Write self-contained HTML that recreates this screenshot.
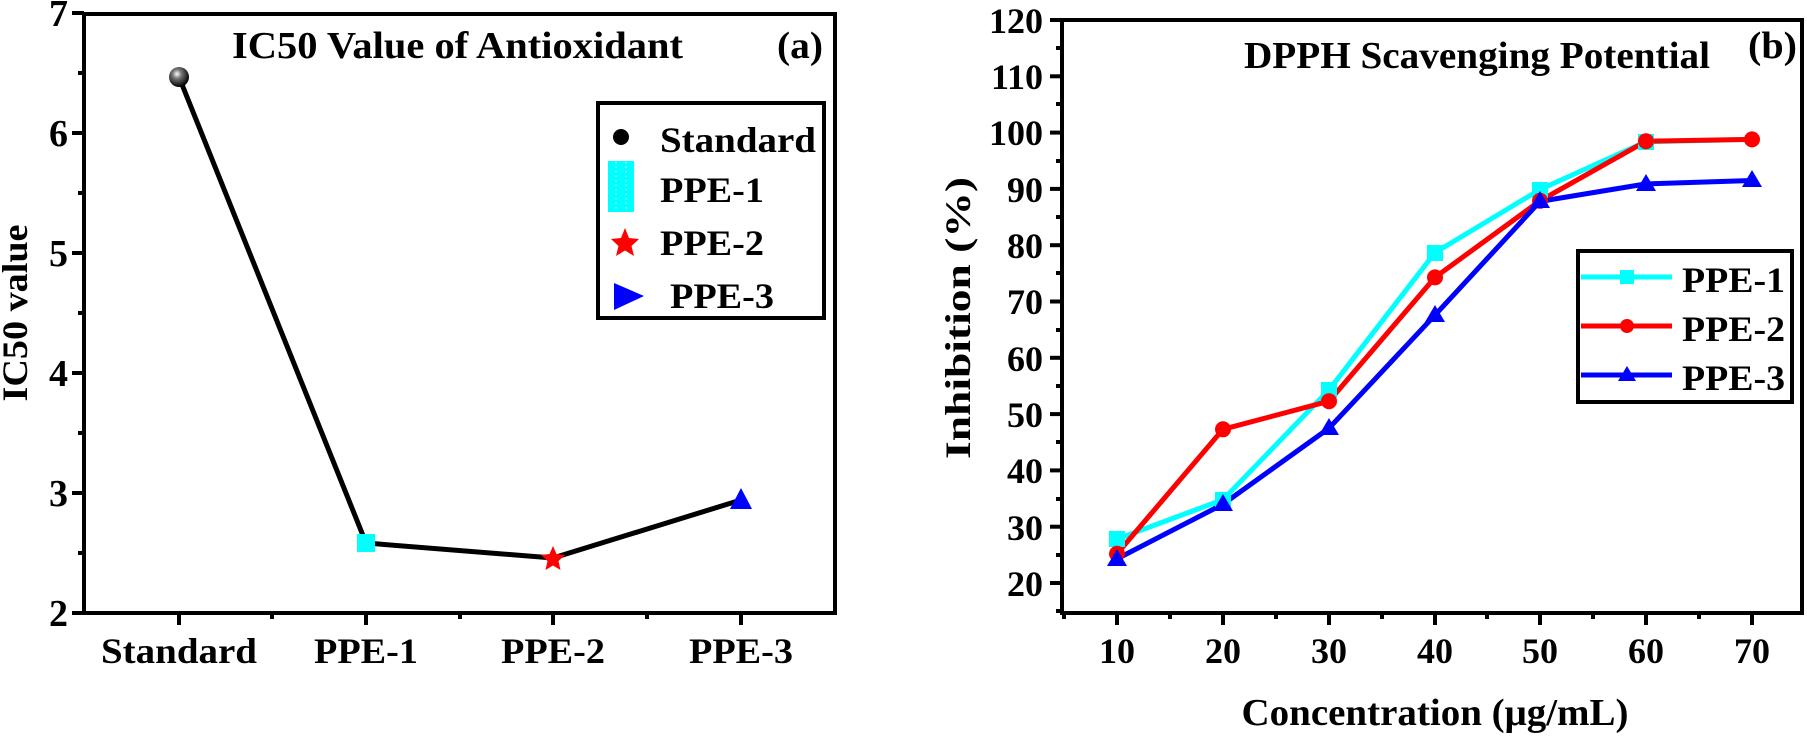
<!DOCTYPE html>
<html><head><meta charset="utf-8"><style>
html,body{margin:0;padding:0;background:#fff;}
svg{display:block;font-family:"Liberation Serif","Times New Roman",serif;font-weight:bold;}
</style></head><body>
<svg width="1807" height="736" viewBox="0 0 1807 736" xmlns="http://www.w3.org/2000/svg">
<defs>
<radialGradient id="sph" cx="40%" cy="35%" r="65%">
<stop offset="0" stop-color="#fff"/><stop offset="0.35" stop-color="#777"/><stop offset="1" stop-color="#000"/>
</radialGradient>
</defs>
<!-- Panel a -->
<g stroke="#000" stroke-width="4" fill="none">
<rect x="84" y="14" width="751" height="599"/>
</g>
<g stroke="#000" stroke-width="4">
<line x1="84" y1="13" x2="72" y2="13"/>
<line x1="84" y1="133" x2="72" y2="133"/>
<line x1="84" y1="253" x2="72" y2="253"/>
<line x1="84" y1="373" x2="72" y2="373"/>
<line x1="84" y1="493" x2="72" y2="493"/>
<line x1="84" y1="613" x2="72" y2="613"/>
<line x1="84" y1="73" x2="78" y2="73"/>
<line x1="84" y1="193" x2="78" y2="193"/>
<line x1="84" y1="313" x2="78" y2="313"/>
<line x1="84" y1="433" x2="78" y2="433"/>
<line x1="84" y1="553" x2="78" y2="553"/>
<line x1="179" y1="613" x2="179" y2="625"/>
<line x1="366" y1="613" x2="366" y2="625"/>
<line x1="553" y1="613" x2="553" y2="625"/>
<line x1="741" y1="613" x2="741" y2="625"/>
<line x1="272" y1="613" x2="272" y2="619"/>
<line x1="460" y1="613" x2="460" y2="619"/>
<line x1="647" y1="613" x2="647" y2="619"/>
</g>
<g font-size="38" text-anchor="end">
<text x="68" y="26">7</text><text x="68" y="146">6</text><text x="68" y="266">5</text>
<text x="68" y="386">4</text><text x="68" y="506">3</text><text x="68" y="626">2</text>
</g>
<g font-size="36" text-anchor="middle">
<text x="179" y="663" textLength="156" lengthAdjust="spacingAndGlyphs">Standard</text>
<text x="366" y="663" textLength="104" lengthAdjust="spacingAndGlyphs">PPE-1</text>
<text x="553" y="663" textLength="104" lengthAdjust="spacingAndGlyphs">PPE-2</text>
<text x="741" y="663" textLength="104" lengthAdjust="spacingAndGlyphs">PPE-3</text>
</g>
<text transform="translate(27,313) rotate(-90)" font-size="36" text-anchor="middle" textLength="177" lengthAdjust="spacingAndGlyphs">IC50 value</text>
<text x="232" y="58" font-size="38" textLength="451" lengthAdjust="spacingAndGlyphs">IC50 Value of Antioxidant</text>
<text x="777" y="58" font-size="38" textLength="46" lengthAdjust="spacingAndGlyphs">(a)</text>
<polyline points="179,77 366,543 553,558 741,500" fill="none" stroke="#000" stroke-width="5" stroke-linejoin="round"/>
<circle cx="179" cy="77" r="10" fill="url(#sph)"/>
<rect x="357" y="534" width="18" height="18" fill="#00ffff"/>
<polygon points="553,546 556.5,554 565,555 558.5,561 560.5,570 553,565.5 545.5,570 547.5,561 541,555 549.5,554" fill="#f00"/>
<polygon points="741,488 752,509 730,509" fill="#00f"/>
<!-- legend a -->
<rect x="598" y="103" width="226" height="215" fill="#fff" stroke="#000" stroke-width="4"/>
<circle cx="621" cy="137" r="8" fill="#000"/>
<rect x="608" y="161" width="26" height="51" fill="#00ffff"/>
<g stroke="#fff" stroke-width="1" stroke-dasharray="1.5,3"><line x1="616" y1="162" x2="616" y2="211"/><line x1="626" y1="162" x2="626" y2="211"/></g>
<polygon points="625,228 629,238 639,239 631.5,246 634,256 625,250.5 616,256 618.5,246 611,239 621,238" fill="#f00"/>
<polygon points="614,283 644,296 614,310" fill="#00f"/>
<g font-size="36">
<text x="660" y="152" textLength="156" lengthAdjust="spacingAndGlyphs">Standard</text>
<text x="660" y="202" textLength="104" lengthAdjust="spacingAndGlyphs">PPE-1</text>
<text x="660" y="255" textLength="104" lengthAdjust="spacingAndGlyphs">PPE-2</text>
<text x="670" y="308" textLength="104" lengthAdjust="spacingAndGlyphs">PPE-3</text>
</g>

<!-- Panel b -->
<rect x="1062" y="20" width="740" height="593" fill="none" stroke="#000" stroke-width="4"/>
<g stroke="#000" stroke-width="4">
<line x1="1062" y1="20" x2="1050" y2="20"/><line x1="1062" y1="76.3" x2="1050" y2="76.3"/>
<line x1="1062" y1="132.6" x2="1050" y2="132.6"/><line x1="1062" y1="188.9" x2="1050" y2="188.9"/>
<line x1="1062" y1="245.2" x2="1050" y2="245.2"/><line x1="1062" y1="301.5" x2="1050" y2="301.5"/>
<line x1="1062" y1="357.8" x2="1050" y2="357.8"/><line x1="1062" y1="414.1" x2="1050" y2="414.1"/>
<line x1="1062" y1="470.4" x2="1050" y2="470.4"/><line x1="1062" y1="526.7" x2="1050" y2="526.7"/>
<line x1="1062" y1="583" x2="1050" y2="583"/>
<line x1="1062" y1="48" x2="1056" y2="48"/><line x1="1062" y1="104" x2="1056" y2="104"/>
<line x1="1062" y1="161" x2="1056" y2="161"/><line x1="1062" y1="217" x2="1056" y2="217"/>
<line x1="1062" y1="273" x2="1056" y2="273"/><line x1="1062" y1="330" x2="1056" y2="330"/>
<line x1="1062" y1="386" x2="1056" y2="386"/><line x1="1062" y1="442" x2="1056" y2="442"/>
<line x1="1062" y1="499" x2="1056" y2="499"/><line x1="1062" y1="555" x2="1056" y2="555"/>
<line x1="1062" y1="611" x2="1056" y2="611"/>
<line x1="1117" y1="613" x2="1117" y2="625"/><line x1="1223" y1="613" x2="1223" y2="625"/>
<line x1="1329" y1="613" x2="1329" y2="625"/><line x1="1435" y1="613" x2="1435" y2="625"/>
<line x1="1540" y1="613" x2="1540" y2="625"/><line x1="1646" y1="613" x2="1646" y2="625"/>
<line x1="1752" y1="613" x2="1752" y2="625"/>
<line x1="1064" y1="613" x2="1064" y2="619"/><line x1="1170" y1="613" x2="1170" y2="619"/>
<line x1="1276" y1="613" x2="1276" y2="619"/><line x1="1382" y1="613" x2="1382" y2="619"/>
<line x1="1487" y1="613" x2="1487" y2="619"/><line x1="1593" y1="613" x2="1593" y2="619"/>
<line x1="1699" y1="613" x2="1699" y2="619"/>
</g>
<g font-size="36" text-anchor="end">
<text x="1043" y="33">120</text><text x="1043" y="89">110</text><text x="1043" y="145">100</text>
<text x="1043" y="202">90</text><text x="1043" y="258">80</text><text x="1043" y="314">70</text>
<text x="1043" y="371">60</text><text x="1043" y="427">50</text><text x="1043" y="483">40</text>
<text x="1043" y="540">30</text><text x="1043" y="596">20</text>
</g>
<g font-size="36" text-anchor="middle">
<text x="1117" y="663">10</text><text x="1223" y="663">20</text><text x="1329" y="663">30</text>
<text x="1435" y="663">40</text><text x="1540" y="663">50</text><text x="1646" y="663">60</text>
<text x="1752" y="663">70</text>
</g>
<text x="1435" y="725" font-size="38" text-anchor="middle" textLength="387" lengthAdjust="spacingAndGlyphs">Concentration (μg/mL)</text>
<text transform="translate(970,318) rotate(-90)" font-size="36" text-anchor="middle" textLength="282" lengthAdjust="spacingAndGlyphs">Inhibition (%)</text>
<text x="1244" y="68" font-size="38" textLength="466" lengthAdjust="spacingAndGlyphs">DPPH Scavenging Potential</text>
<text x="1748" y="58" font-size="38" textLength="49" lengthAdjust="spacingAndGlyphs">(b)</text>

<g fill="none" stroke-width="5" stroke-linejoin="round">
<polyline stroke="#00ffff" points="1117,539.1 1223,499.7 1329,389.9 1435,252.6 1540,189.5 1646,141.7 1752,139.4"/>
<polyline stroke="#f00" points="1117,553.8 1223,429.3 1329,401.2 1435,277.4 1540,200.8 1646,141.2 1752,139.4"/>
<polyline stroke="#00f" points="1117,558.9 1223,504.2 1329,428.2 1435,315.1 1540,201.4 1646,183.9 1752,180.5"/>
</g>
<g fill="#00ffff">
<rect x="1109" y="531" width="16" height="16"/><rect x="1215" y="492" width="16" height="16"/>
<rect x="1321" y="382" width="16" height="16"/><rect x="1427" y="245" width="16" height="16"/>
<rect x="1532" y="182" width="16" height="16"/><rect x="1638" y="134" width="16" height="16"/>
</g>
<g fill="#f00">
<circle cx="1117" cy="553.8" r="8"/><circle cx="1223" cy="429.3" r="8"/><circle cx="1329" cy="401.2" r="8"/>
<circle cx="1435" cy="277.4" r="8"/><circle cx="1540" cy="200.8" r="8"/><circle cx="1646" cy="141.2" r="8"/>
<circle cx="1752" cy="139.4" r="8"/>
</g>
<g fill="#00f">
<polygon points="1117,549 1127,566 1107,566"/><polygon points="1223,494 1233,511 1213,511"/>
<polygon points="1329,418 1339,435 1319,435"/><polygon points="1435,305 1445,322 1425,322"/>
<polygon points="1540,191 1550,208 1530,208"/><polygon points="1646,174 1656,191 1636,191"/>
<polygon points="1752,170 1762,187 1742,187"/>
</g>
<!-- legend b -->
<rect x="1578" y="251" width="214" height="151" fill="#fff" stroke="#000" stroke-width="4"/>
<g stroke-width="5">
<line x1="1581" y1="277" x2="1672" y2="277" stroke="#00ffff"/>
<line x1="1581" y1="326" x2="1672" y2="326" stroke="#f00"/>
<line x1="1581" y1="375" x2="1672" y2="375" stroke="#00f"/>
</g>
<rect x="1620" y="270" width="14" height="14" fill="#00ffff"/>
<circle cx="1627" cy="326" r="7" fill="#f00"/>
<polygon points="1627,366 1636,381 1618,381" fill="#00f"/>
<g font-size="36">
<text x="1682" y="292" textLength="103" lengthAdjust="spacingAndGlyphs">PPE-1</text>
<text x="1682" y="341" textLength="103" lengthAdjust="spacingAndGlyphs">PPE-2</text>
<text x="1682" y="390" textLength="103" lengthAdjust="spacingAndGlyphs">PPE-3</text>
</g>
</svg>
</body></html>
